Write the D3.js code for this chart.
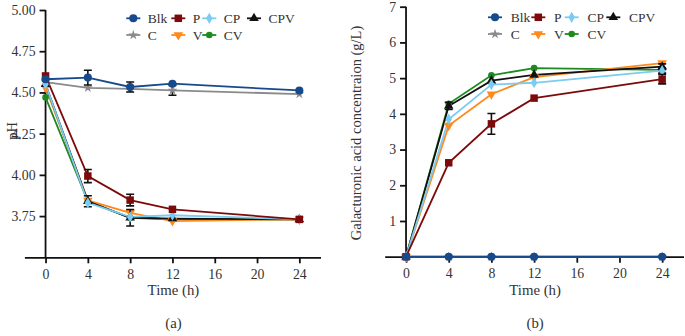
<!DOCTYPE html>
<html><head><meta charset="utf-8">
<script src="https://cdn.jsdelivr.net/npm/d3@7"></script>
<style>body{margin:0;background:#fff}svg{display:block}svg text{font-family:"Liberation Serif","Times New Roman",serif !important;fill:#333}</style>
</head><body><svg id="c" width="685" height="336"></svg>
<script>
const times = [0, 4, 8, 12, 24];
const seriesNames = ["Blk", "P", "CP", "CPV", "C", "V", "CV"];
const colors = {Blk:"#174a8b", P:"#7d0a0a", CP:"#7ccbf2", CPV:"#111111", C:"#8a8a8a", V:"#ff8a1c", CV:"#1f8a1f"};
// pH values (a)
const phBlk = [4.58, 4.59, 4.533, 4.553, 4.512];
const phP   = [4.60, 3.993, 3.847, 3.791, 3.73];
const phCP  = [4.55, 3.83, 3.745, 3.755, 3.73];
const phCPV = [4.55, 3.84, 3.74, 3.735, 3.73];
const phC   = [4.563, 4.528, 4.522, 4.513, 4.49];
const phV   = [4.53, 3.845, 3.77, 3.72, 3.73];
const phCV  = [4.47, 3.84, 3.74, 3.73, 3.73];
// pH errors
const phErrBlk = [0, 0.045, 0.03, 0, 0];
const phErrP   = [0, 0.04, 0.035, 0, 0];
const phErrCPV = [0, 0.033, 0.05, 0, 0];
const phErrC   = [0, 0, 0, 0.03, 0];
// Galacturonic acid (b)
const gaBlk = [0, 0, 0, 0, 0];
const gaP   = [0, 2.63, 3.72, 4.44, 4.97];
const gaCP  = [0, 3.85, 4.82, 4.87, 5.21];
const gaCPV = [0, 4.22, 4.93, 5.09, 5.32];
const gaC   = [0, 0, 0, 0, 0];
const gaV   = [0, 3.67, 4.55, 5.03, 5.42];
const gaCV  = [0, 4.28, 5.08, 5.28, 5.23];
const gaErrP   = [0, 0, 0.29, 0, 0.13];
const gaErrCPV = [0, 0.1, 0, 0, 0.08];
const gaErrCP  = [0, 0, 0, 0, 0.07];

const xTicks = [0, 4, 8, 12, 16, 20, 24];
const phTicks = [3.75, 4.00, 4.25, 4.50, 4.75, 5.00];
const gaTicks = [1, 2, 3, 4, 5, 6, 7];

const svg = d3.select("#c");
const drawOrder = ["CV", "V", "C", "CPV", "CP", "P", "Blk"];

function marker(g, name, x, y) {
  const c = colors[name];
  let sym, size, rot = 0;
  switch (name) {
    case "Blk": sym = d3.symbolCircle; size = 52; break;
    case "P": sym = d3.symbolSquare; size = 56; break;
    case "CP": sym = d3.symbolDiamond; size = 36; break;
    case "CPV": sym = d3.symbolTriangle; size = 40; break;
    case "C": sym = d3.symbolStar; size = 30; break;
    case "V": sym = d3.symbolTriangle; size = 40; rot = 180; break;
    case "CV": sym = d3.symbolCircle; size = 34; break;
  }
  g.append("path").attr("d", d3.symbol(sym, size)())
    .attr("transform", `translate(${x},${y}) rotate(${rot})`)
    .attr("fill", c);
}

function chart(cfg) {
  const g = svg.append("g");
  const x = d3.scaleLinear().domain([-2, 26]).range(cfg.xr);
  const y = d3.scaleLinear().domain(cfg.yd).range(cfg.yr);
  const xa = g.append("g").attr("transform", `translate(0,${cfg.yr[0]})`)
    .call(d3.axisBottom(x).tickValues(xTicks).tickSize(6).tickSizeOuter(0).tickFormat(d3.format("d")));
  const ya = g.append("g").attr("transform", `translate(${x(0)},0)`)
    .call(d3.axisLeft(y).tickValues(cfg.ticks).tickSize(6).tickSizeOuter(0).tickFormat(cfg.fmt));
  [xa, ya].forEach(a => {
    a.attr("font-family", null).attr("font-size", null);
    a.select(".domain").attr("stroke", "#111").attr("stroke-width", 1.8);
    a.selectAll(".tick line").attr("stroke", "#111").attr("stroke-width", 1.8);
    a.selectAll("text").style("font-size", "13.8px").attr("fill", "#333");
  });
  ya.select(".domain").attr("d", `M0,${cfg.yr[0]}V${cfg.yr[1]}`);
  xa.selectAll(".tick text").attr("dy", "0.9em");
  ya.selectAll(".tick text").attr("dx", "-1");

  const data = cfg.data;
  const line = d3.line().x((d, i) => x(times[i])).y(d => y(d));
  drawOrder.forEach(n => {
    g.append("path").attr("d", line(data[n])).attr("fill", "none")
      .attr("stroke", colors[n]).attr("stroke-width", 1.8);
  });
  drawOrder.forEach(n => {
    const err = cfg.err[n];
    if (err) err.forEach((e, i) => {
      if (e <= 0) return;
      const cx = x(times[i]), y1 = y(data[n][i] + e), y2 = y(data[n][i] - e);
      g.append("path").attr("d", `M${cx},${y1}V${y2}M${cx-4},${y1}H${cx+4}M${cx-4},${y2}H${cx+4}`)
        .attr("stroke", "#111").attr("stroke-width", 1.6).attr("fill", "none");
    });
    data[n].forEach((v, i) => marker(g, n, x(times[i]), y(v)));
  });
  const cxm = (x(-2) + x(26)) / 2 + 1;
  g.append("text").attr("x", cxm).attr("y", 295).attr("text-anchor", "middle")
    .style("font-size", "14.8px").text("Time (h)");
  g.append("text").attr("x", cxm).attr("y", 328).attr("text-anchor", "middle")
    .style("font-size", "14.8px").text(cfg.tag);
  g.append("text").attr("transform", `translate(${cfg.ylx},${cfg.yly}) rotate(-90)`).attr("text-anchor", "middle")
    .style("font-size", "14.5px").text(cfg.ylabel);
  const rows = [["Blk", "P", "CP", "CPV"], ["C", "V", "CV"]];
  rows.forEach((r, ri) => r.forEach((n, ci) => {
    const mx = cfg.legX[ci], my = cfg.legY[ri];
    g.append("line").attr("x1", mx - 7).attr("x2", mx + 7).attr("y1", my).attr("y2", my)
      .attr("stroke", colors[n]).attr("stroke-width", 1.8);
    marker(g, n, mx, my);
    g.append("text").attr("x", mx + cfg.legGap).attr("y", my + 4.5).style("font-size", "13.5px").text(n);
  }));
}

chart({
  xr: [24.4, 320.5], yd: [3.5, 5.0], yr: [257.3, 10], ticks: phTicks, fmt: d3.format(".2f"),
  data: {Blk: phBlk, P: phP, CP: phCP, CPV: phCPV, C: phC, V: phV, CV: phCV},
  err: {Blk: phErrBlk, P: phErrP, CPV: phErrCPV, C: phErrC},
  tag: "(a)", ylabel: "pH", ylx: 17, yly: 131,
  legX: [133.3, 178.3, 209.3, 254], legY: [18.3, 35], legGap: 14.4
});
chart({
  xr: [384.7, 683.5], yd: [0, 7], yr: [256.7, 6.7], ticks: gaTicks, fmt: d3.format("d"),
  data: {Blk: gaBlk, P: gaP, CP: gaCP, CPV: gaCPV, C: gaC, V: gaV, CV: gaCV},
  err: {P: gaErrP, CPV: gaErrCPV, CP: gaErrCP},
  tag: "(b)", ylabel: "Galacturonic acid concentraion (g/L)", ylx: 361, yly: 133,
  legX: [495, 538.3, 571.7, 613.3], legY: [17.3, 34], legGap: 15.7
});
</script></body></html>
